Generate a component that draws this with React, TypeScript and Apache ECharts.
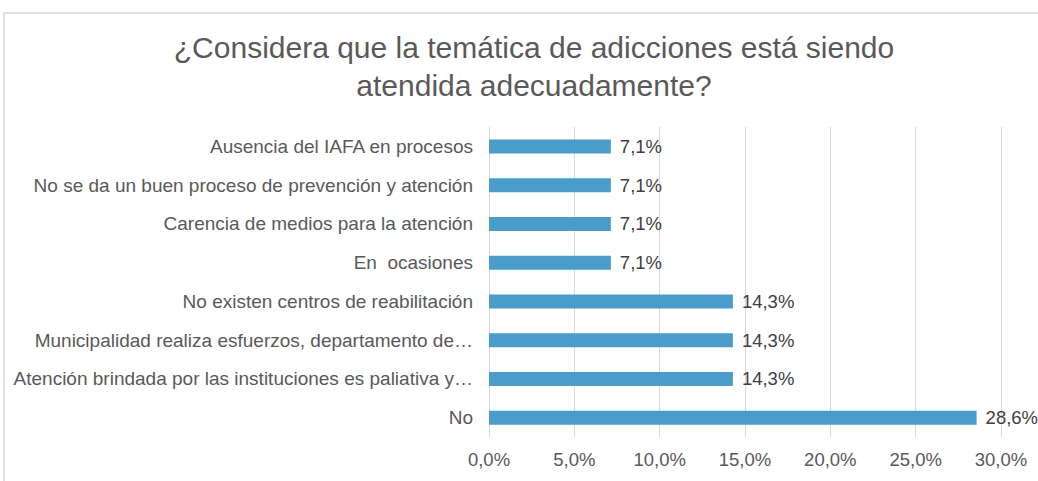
import React, { useEffect, useRef } from "react";
import * as echarts from "echarts";

const categories = [
  "Ausencia del IAFA en procesos",
  "No se da un buen proceso de prevención y atención",
  "Carencia de medios para la atención",
  "En  ocasiones",
  "No existen centros de reabilitación",
  "Municipalidad realiza esfuerzos, departamento de…",
  "Atención brindada por las instituciones es paliativa y…",
  "No",
];
const values = [7.14, 7.14, 7.14, 7.14, 14.29, 14.29, 14.29, 28.57];
const titleLines = [
  "¿Considera que la temática de adicciones está siendo",
  "atendida adecuadamente?",
];

const fmt = (v: number) => v.toFixed(1).replace(".", ",") + "%";

export default function App() {
  const ref = useRef<HTMLDivElement>(null);
  useEffect(() => {
    if (!ref.current) return;
    const chart = echarts.init(ref.current, null, { renderer: "svg" });
    const font = "'Liberation Sans', Arial, sans-serif";
    chart.setOption({
      animation: false,
      backgroundColor: "#ffffff",
      title: {
        text: titleLines.join("\n"),
        left: 529,
        top: 23,
        textAlign: "center",
        textStyle: {
          fontFamily: font,
          fontSize: 30,
          fontWeight: "normal",
          color: "#595959",
          lineHeight: 38,
        },
      },
      graphic: [
        {
          type: "rect",
          shape: { x: 4, y: 13, width: 1200, height: 600 },
          style: { fill: "none", stroke: "#d9d9d9", lineWidth: 1.5 },
          silent: true,
        },
      ],
      grid: { left: 489, right: 37, top: 127, bottom: 44, containLabel: false },
      xAxis: {
        type: "value",
        min: 0,
        max: 30,
        interval: 5,
        axisLine: { show: false },
        axisTick: { show: false },
        splitLine: { lineStyle: { color: "#d9d9d9", width: 1 } },
        axisLabel: {
          formatter: (v: number) => fmt(v),
          fontFamily: font,
          fontSize: 18.5,
          color: "#595959",
          margin: 13,
        },
      },
      yAxis: {
        type: "category",
        data: categories,
        inverse: true,
        axisLine: { show: true, lineStyle: { color: "#d9d9d9", width: 1 } },
        axisTick: { show: false },
        axisLabel: {
          fontFamily: font,
          fontSize: 19,
          color: "#595959",
          margin: 16,
        },
      },
      series: [
        {
          type: "bar",
          data: values,
          barWidth: 14,
          itemStyle: { color: "#4a9ccb" },
          label: {
            show: true,
            position: "right",
            distance: 9,
            formatter: (p: any) => fmt(p.value),
            fontFamily: font,
            fontSize: 18.5,
            color: "#404040",
          },
        },
      ],
    });
    return () => chart.dispose();
  }, []);
  return (
    <div
      ref={ref}
      style={{ position: "absolute", left: 0, top: 0, width: 1038, height: 481 }}
    />
  );
}
